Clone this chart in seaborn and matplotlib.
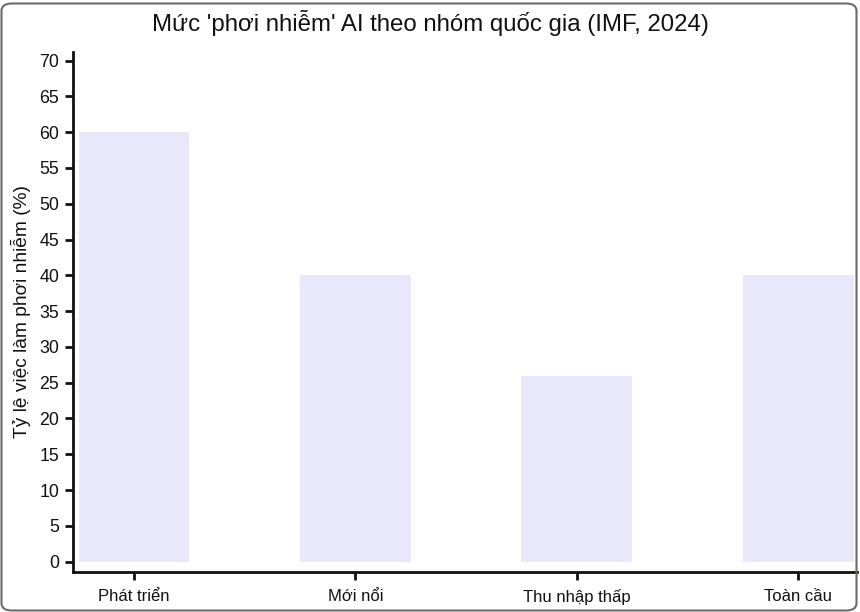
import matplotlib
matplotlib.use("Agg")
import matplotlib.pyplot as plt
from matplotlib.patches import FancyBboxPatch
import seaborn as sns
import pandas as pd

categories = ["Phát triển", "Mới nổi", "Thu nhập thấp", "Toàn cầu"]
values = [60, 40, 26, 40]
yticks = list(range(0, 75, 5))
title = "Mức 'phơi nhiễm' AI theo nhóm quốc gia (IMF, 2024)"
ylabel = "Tỷ lệ việc làm phơi nhiễm (%)"

sns.set_theme(style="white")
plt.rcParams["font.family"] = ["Liberation Sans", "DejaVu Sans"]

df = pd.DataFrame({"cat": categories, "val": values})

fig = plt.figure(figsize=(8.6, 6.12), dpi=100)
fig.patch.set_facecolor("white")
ax = fig.add_axes([73 / 860, 40 / 612, 784 / 860, 520 / 612])

sns.barplot(data=df, x="cat", y="val", ax=ax, color="#E8E8FA", width=0.5,
            saturation=1, edgecolor="none")

ax.set_xlim(-0.275, 3.265)
ax.set_ylim(-1.45, 71.2)
ax.set_yticks(yticks)
ax.set_yticklabels([str(t) for t in yticks])
ax.set_xlabel("")
ax.set_ylabel(ylabel, fontsize=13.8, color="#111111", labelpad=6)

for s in ["top", "right"]:
    ax.spines[s].set_visible(False)
for s in ["left", "bottom"]:
    ax.spines[s].set_linewidth(2)
    ax.spines[s].set_color("#111111")

ax.tick_params(axis="both", which="both", direction="out", length=6, width=2,
               color="#111111", labelsize=12, labelcolor="#111111", pad=4)
ax.tick_params(axis="y", labelsize=12.8)
ax.tick_params(axis="x", pad=6)
ax.tick_params(axis="y", left=True)
ax.tick_params(axis="x", bottom=True)

fig.text(0.5, 1 - 23 / 612, title, ha="center", va="center", fontsize=17.3, color="#111111")

frame = FancyBboxPatch((1.5 / 860, 1.5 / 612), (855 / 860), (607 / 612),
                       boxstyle="round,pad=0,rounding_size=0.012",
                       transform=fig.transFigure, facecolor="none",
                       edgecolor="#6b6b6b", linewidth=1.5, zorder=10)
fig.patches.append(frame)

fig.savefig("out.png", dpi=100, facecolor="white")
